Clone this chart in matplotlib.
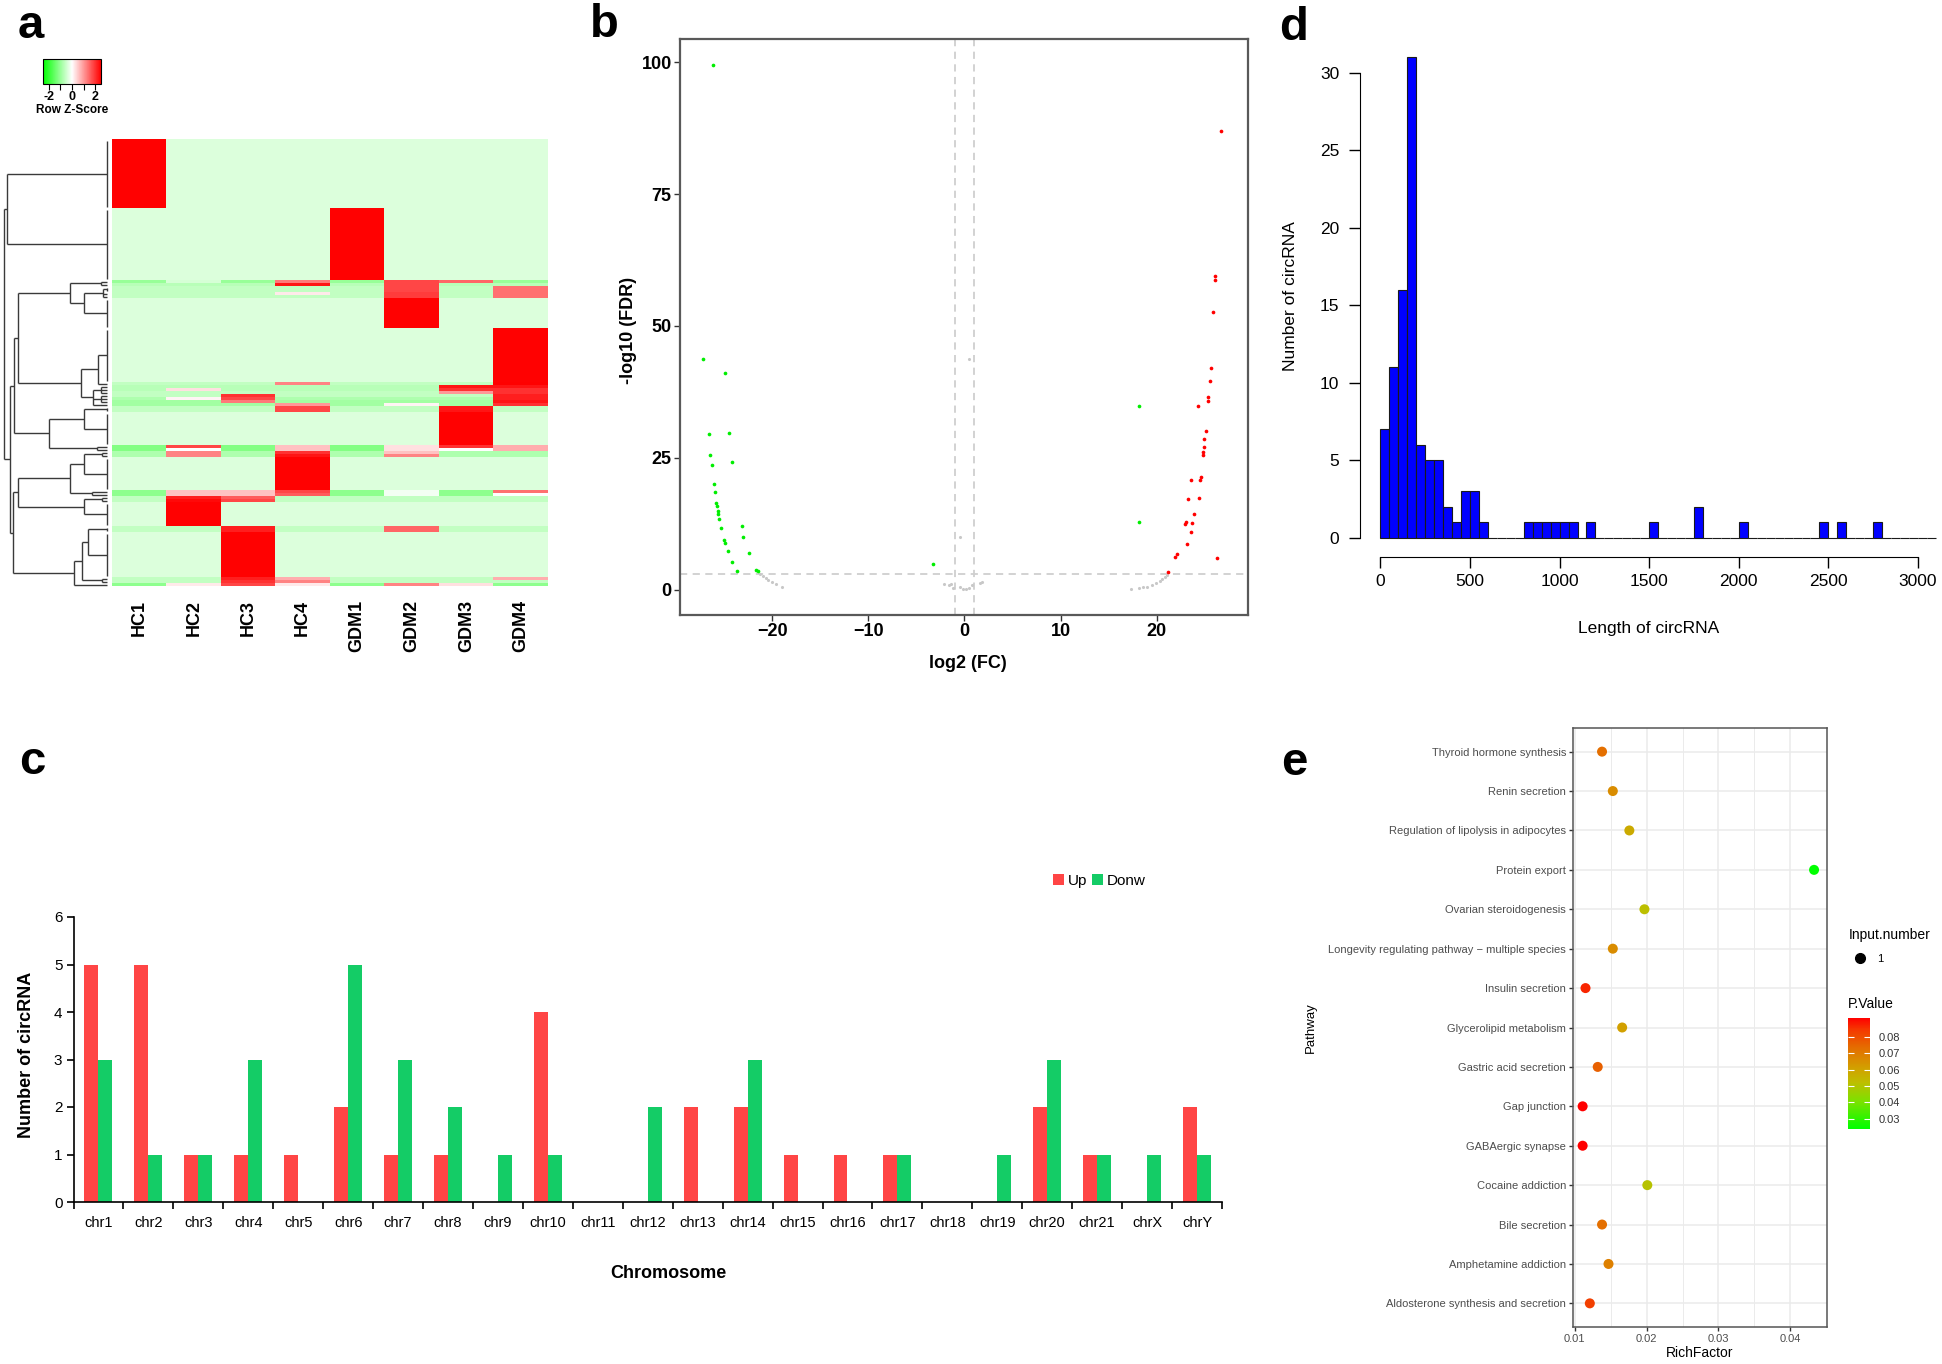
import numpy as np
import matplotlib
matplotlib.use("Agg")
import matplotlib.pyplot as plt
from matplotlib.colors import LinearSegmentedColormap, Normalize
from matplotlib.cm import ScalarMappable
from matplotlib.lines import Line2D
from matplotlib import font_manager

plt.rcParams['font.family'] = ['Liberation Sans', 'DejaVu Sans']
_names = {f.name for f in font_manager.fontManager.ttflist}
NARROW = 'Liberation Sans Narrow' if 'Liberation Sans Narrow' in _names else 'Liberation Sans'
NARROW_SIZE = 12 if NARROW == 'Liberation Sans Narrow' else 10.5

# ---------------- data: panel a (heatmap) ----------------
heat_samples = ['HC1', 'HC2', 'HC3', 'HC4', 'GDM1', 'GDM2', 'GDM3', 'GDM4']
heat_patterns = [
    [2.47, -.35, -.35, -.35, -.35, -.35, -.35, -.35],   # 0 HC1 block
    [-.35, -.35, -.35, -.35, 2.47, -.35, -.35, -.35],   # 1 GDM1 block
    [-1.0, -0.4, -1.0, 1.3, -1.0, 1.8, 1.5, -1.0],      # 2
    [-0.7, -0.7, -0.7, 2.3, -0.7, 1.8, -0.7, -0.7],     # 3
    [-0.6, -0.6, -0.6, -0.6, -0.6, 1.8, -0.6, 1.4],     # 4
    [-0.6, -0.6, -0.6, 0.2, -0.6, 1.9, -0.6, 1.4],      # 5
    [-0.6, -0.6, -0.6, -0.6, -0.6, 1.9, -0.6, 1.4],     # 6
    [-.35, -.35, -.35, -.35, -.35, 2.47, -.35, -.35],   # 7 GDM2 block
    [-.35, -.35, -.35, -.35, -.35, -.35, -.35, 2.47],   # 8 GDM4 block
    [-0.6, -0.6, -0.6, 1.2, -0.6, -0.6, -0.6, 2.5],     # 9
    [-0.7, -0.7, -0.7, -0.7, -0.7, -0.7, 2.3, 2.3],     # 10
    [-0.7, 0.3, -0.7, -0.7, -0.7, -0.7, 2.0, 2.0],      # 11
    [-0.6, -0.6, -0.6, -0.6, -0.6, -0.6, 1.0, 2.0],     # 12
    [-0.6, -0.6, 2.0, -0.6, -0.6, -0.6, -0.6, 2.2],     # 13
    [-0.8, 0.1, 1.8, -0.8, -0.8, -0.8, -0.8, 2.2],      # 14
    [-0.9, -0.9, 1.3, -0.9, -0.9, -0.9, -0.9, 2.3],     # 15
    [-0.9, -0.9, -0.9, 1.0, -0.9, 0.1, -0.9, 2.0],      # 16
    [-0.6, -0.6, -0.6, 1.8, -0.6, -0.6, 2.3, -0.6],     # 17
    [-.35, -.35, -.35, -.35, -.35, -.35, 2.47, -.35],   # 18 GDM3 block
    [-1.2, 1.8, -1.2, 0.6, -1.2, 0.3, 2.0, 0.8],        # 19
    [-1.2, 0.0, -1.2, 0.6, -1.2, 0.3, 0.0, 0.8],        # 20
    [-0.8, 1.2, -0.8, 2.0, -0.8, 0.6, -0.8, -0.8],      # 21
    [-0.8, 1.2, -0.8, 2.3, -0.8, 1.2, -0.8, -0.8],      # 22
    [-.35, -.35, -.35, 2.47, -.35, -.35, -.35, -.35],   # 23 HC4 block
    [-1.1, 0.6, 0.6, 1.8, -1.1, -0.1, -1.1, 1.4],       # 24
    [-1.1, 0.6, 0.6, 1.6, -1.1, -0.1, -1.1, 0.0],       # 25
    [-0.6, 2.2, 1.6, -0.6, -0.6, -0.6, -0.6, -0.6],     # 26
    [-0.6, 2.4, 1.8, -0.6, -0.6, -0.6, -0.6, -0.6],     # 27
    [-.35, 2.47, -.35, -.35, -.35, -.35, -.35, -.35],   # 28 HC2 block
    [-0.6, -0.6, 2.2, -0.6, -0.6, 1.5, -0.6, -0.6],     # 29
    [-.35, -.35, 2.47, -.35, -.35, -.35, -.35, -.35],   # 30 HC3 block
    [-0.6, -0.6, 2.2, 0.8, -0.6, -0.6, -0.6, 0.8],      # 31
    [-0.6, -0.6, 2.0, 1.2, -0.6, -0.6, -0.6, -0.6],     # 32
    [-1.1, 0.2, 1.8, 0.2, -1.1, 1.2, 0.3, -1.1],        # 33
]
heat_counts = [23, 24, 1, 1, 2, 1, 1, 10, 18, 1, 1, 1, 1, 1, 1, 1, 1, 2, 11,
               1, 1, 1, 1, 11, 1, 1, 1, 1, 8, 2, 15, 1, 1, 1]
# row dendrogram: (height, children); integers refer to heat_patterns groups
row_tree = (10.0, [
    (9.66, [0, 1]),
    (9.37, [
        (8.99, [
            (8.6, [
                (3.57, [(0.6, [2, 3]), (2.2, [(0.4, [4, 5, 6]), 7])]),
                (2.5, [(0.9, [8, 9]), (1.4, [(0.6, [10, 11, 12]), (0.6, [13, 14, 15]), 16])]),
            ]),
            (5.6, [(2.2, [17, 18]), (1.0, [19, 20])]),
        ]),
        (9.1, [
            (8.6, [
                (3.57, [(2.2, [(0.5, [21, 22]), 23]), (1.45, [24, 25])]),
                (2.2, [(0.5, [26, 27]), 28]),
            ]),
            (3.2, [(2.4, [(1.8, [29, 30]), (0.5, [31, 32])]), 33]),
        ]),
    ]),
])

# ---------------- data: panel b (volcano) ----------------
down_x = [-26.2, -27.2, -24.9, -26.6, -24.5, -26.5, -26.3, -24.2, -26.1, -26.0, -25.9, -25.7,
          -25.6, -25.6, -25.5, -25.3, -23.2, -23.0, -25.0, -24.9, -24.6, -22.4, -24.2, -23.7,
          -21.7, -21.5, 18.2, 18.2, -3.3]
down_y = [99.4, 43.7, 41.1, 29.6, 29.7, 25.6, 23.6, 24.2, 20.0, 18.5, 16.4, 15.8, 15.0, 14.3,
          13.4, 11.7, 12.0, 9.9, 9.5, 8.9, 7.4, 6.9, 5.2, 3.6, 3.7, 3.5, 34.8, 12.9, 4.9]
up_x = [26.7, 26.1, 26.1, 25.9, 25.6, 25.5, 25.3, 25.3, 24.3, 25.1, 24.9, 24.9, 24.8, 24.8,
        24.6, 24.5, 23.6, 24.4, 23.3, 23.9, 23.0, 22.9, 23.7, 23.6, 23.2, 22.1, 21.9, 26.3, 21.2]
up_y = [86.9, 59.5, 58.8, 52.6, 42.1, 39.6, 36.6, 35.7, 34.8, 30.0, 28.5, 27.0, 26.1, 25.5,
        21.4, 20.7, 20.8, 17.4, 17.1, 14.3, 12.9, 12.5, 12.7, 11.0, 8.7, 6.7, 6.2, 6.0, 3.3]
ns_x = [-21.3, -21.0, -20.7, -20.4, -20.0, -19.6, -19.0, -2.1, -1.6, -1.4, -1.2, -0.5, -0.2,
        0.2, 0.5, 0.8, 1.6, 1.8, -0.5, 0.5, 17.3, 18.2, 18.6, 19.0, 19.5, 19.9, 20.3, 20.6, 20.9, 21.1]
ns_y = [3.0, 2.6, 2.2, 1.9, 1.5, 1.1, 0.6, 1.1, 0.8, 1.0, 0.3, 0.5, 0.1, 0.2, 0.3, 0.8, 1.2,
        1.5, 10.0, 43.7, 0.2, 0.4, 0.5, 0.6, 0.9, 1.2, 1.6, 2.0, 2.4, 2.8]
fc_cut = 1.0
fdr_cut = 3.0

# ---------------- data: panel c (chromosomes) ----------------
chroms = ['chr%d' % i for i in range(1, 22)] + ['chrX', 'chrY']
chrom_up = [5, 5, 1, 1, 1, 2, 1, 1, 0, 4, 0, 0, 2, 2, 1, 1, 1, 0, 0, 2, 1, 0, 2]
chrom_down = [3, 1, 1, 3, 0, 5, 3, 2, 1, 1, 0, 2, 0, 3, 0, 0, 1, 0, 1, 3, 1, 1, 1]

# ---------------- data: panel d (length histogram) ----------------
len_bin_left = [0, 50, 100, 150, 200, 250, 300, 350, 400, 450, 500, 550, 800, 850, 900, 950,
                1000, 1050, 1150, 1500, 1750, 2000, 2450, 2550, 2750]
len_counts = [7, 11, 16, 31, 6, 5, 5, 2, 1, 3, 3, 1, 1, 1, 1, 1, 1, 1, 1, 1, 2, 1, 1, 1, 1]
len_bin_width = 50
len_max = 3100

# ---------------- data: panel e (KEGG dot plot) ----------------
pathways = ['Thyroid hormone synthesis', 'Renin secretion', 'Regulation of lipolysis in adipocytes',
            'Protein export', 'Ovarian steroidogenesis',
            'Longevity regulating pathway \u2212 multiple species', 'Insulin secretion',
            'Glycerolipid metabolism', 'Gastric acid secretion', 'Gap junction', 'GABAergic synapse',
            'Cocaine addiction', 'Bile secretion', 'Amphetamine addiction',
            'Aldosterone synthesis and secretion']
rich_factor = [0.0138, 0.0153, 0.0176, 0.0433, 0.0197, 0.0153, 0.0115, 0.0166, 0.0132, 0.0111,
               0.0111, 0.0201, 0.0138, 0.0147, 0.0121]
p_values = [0.073, 0.066, 0.058, 0.0237, 0.052, 0.066, 0.087, 0.061, 0.076, 0.0916, 0.0916,
            0.051, 0.073, 0.069, 0.083]
input_number = [1] * 15

# ---------------- layout helpers ----------------
W, H = 1942, 1364
fig = plt.figure(figsize=(W / 100, H / 100), dpi=100)


def rect(x0, y0, x1, y1):
    return [x0 / W, 1 - y1 / H, (x1 - x0) / W, (y1 - y0) / H]


def label_at(ax, box, xcenter=None, ycenter=None, which='x'):
    x0, y0, x1, y1 = box
    if which == 'x':
        ax.xaxis.set_label_coords((xcenter - x0) / (x1 - x0), (y1 - ycenter) / (y1 - y0))
        ax.xaxis.label.set_va('center')
    else:
        ax.yaxis.set_label_coords((xcenter - x0) / (x1 - x0), (y1 - ycenter) / (y1 - y0))
        ax.yaxis.label.set_va('center')


for letter, x, yb in [('a', 18, 38), ('b', 590, 37), ('d', 1279, 40), ('c', 19, 774), ('e', 1281, 775)]:
    fig.text(x / W, 1 - yb / H, letter, fontsize=34, fontweight='bold', va='baseline', ha='left')

# ================= panel a =================
zcmap = LinearSegmentedColormap.from_list('gwr', ['#00FF00', '#FFFFFF', '#FF0000'])
rows = []
for pat, n in zip(heat_patterns, heat_counts):
    rows.extend([pat] * n)
mat = np.array(rows)
nrows = mat.shape[0]
ax_h = fig.add_axes(rect(112, 139, 548, 586))
ax_h.imshow(mat, cmap=zcmap, vmin=-2.5, vmax=2.5, aspect='auto', interpolation='nearest',
            extent=(0, len(heat_samples), nrows, 0))
ax_h.set_xlim(0, len(heat_samples))
ax_h.set_ylim(nrows, 0)
ax_h.set_xticks(np.arange(len(heat_samples)) + 0.5)
ax_h.set_xticklabels(heat_samples, rotation=90, fontsize=13, fontweight='bold')
ax_h.tick_params(axis='x', length=0, pad=10)
ax_h.set_yticks([])
for s in ax_h.spines.values():
    s.set_visible(False)

ax_dn = fig.add_axes(rect(0, 139, 107, 586))
ax_dn.set_xlim(10.34, 0)
ax_dn.set_ylim(nrows, 0)
ax_dn.axis('off')
row_start = np.concatenate([[0], np.cumsum(heat_counts)[:-1]])
lkw = dict(color='#3a3a3a', lw=1.0, clip_on=False, solid_capstyle='butt')


def draw_tree(node):
    if isinstance(node, int):
        top = row_start[node] + 0.5
        bot = row_start[node] + heat_counts[node] - 0.5
        if heat_counts[node] > 1:
            ax_dn.plot([0, 0], [top, bot], **lkw)
        return (top + bot) / 2, 0.0
    h, children = node
    res = [draw_tree(c) for c in children]
    for pos, ch in res:
        ax_dn.plot([ch, h], [pos, pos], **lkw)
    ps = [p for p, _ in res]
    ax_dn.plot([h, h], [min(ps), max(ps)], **lkw)
    return (min(ps) + max(ps)) / 2, h


draw_tree(row_tree)

cax_a = fig.add_axes(rect(43, 59, 101, 84))
cb_a = fig.colorbar(ScalarMappable(norm=Normalize(-2.5, 2.5), cmap=zcmap), cax=cax_a,
                    orientation='horizontal')
cb_a.set_ticks([-2, -1, 0, 1, 2])
cb_a.set_ticklabels(['-2', '', '0', '', '2'])
cax_a.tick_params(labelsize=9, length=4, width=0.8, pad=1)
for t in cax_a.get_xticklabels():
    t.set_fontweight('bold')
cb_a.outline.set_linewidth(0.8)
cax_a.set_xlabel('Row Z-Score', fontsize=8.5, fontweight='bold', labelpad=1)

# ================= panel b =================
box_b = (680, 39, 1248, 615)
ax_v = fig.add_axes(rect(*box_b))
ax_v.scatter(ns_x, ns_y, s=5, color='#C8C8C8', linewidths=0, zorder=3)
ax_v.scatter(down_x, down_y, s=7, color='#00EE00', linewidths=0, zorder=3)
ax_v.scatter(up_x, up_y, s=7, color='#FF0000', linewidths=0, zorder=3)
for xv in (-fc_cut, fc_cut):
    ax_v.axvline(xv, color='#CFCFCF', lw=1.3, ls=(0, (4, 3)), zorder=1)
ax_v.axhline(fdr_cut, color='#CFCFCF', lw=1.3, ls=(0, (4, 3)), zorder=1)
ax_v.set_xlim(-29.6, 29.5)
ax_v.set_ylim(-4.8, 104.4)
ax_v.set_xticks([-20, -10, 0, 10, 20])
ax_v.set_yticks([0, 25, 50, 75, 100])
ax_v.tick_params(length=4, width=1, color='#333333', labelsize=13, pad=2)
for t in ax_v.get_xticklabels() + ax_v.get_yticklabels():
    t.set_fontweight('bold')
for s in ax_v.spines.values():
    s.set_color('#595959')
    s.set_linewidth(1.6)
ax_v.set_xlabel('log2 (FC)', fontsize=13, fontweight='bold')
ax_v.set_ylabel('-log10 (FDR)', fontsize=13, fontweight='bold')
label_at(ax_v, box_b, 968, 663, 'x')
label_at(ax_v, box_b, 628, 330, 'y')

# ================= panel d =================
box_d = (1360, 38, 1942, 557)
ax_l = fig.add_axes(rect(*box_d))
edges = np.arange(0, len_max, len_bin_width)
full_counts = np.zeros(len(edges))
for left, c in zip(len_bin_left, len_counts):
    full_counts[left // len_bin_width] = c
ax_l.bar(edges, full_counts, width=len_bin_width, align='edge', color='#0000FF',
         edgecolor='#1a1a1a', linewidth=0.8)
ax_l.set_xlim(-114, 3134)
ax_l.set_ylim(-1.23, 32.24)
ax_l.set_xticks(np.arange(0, 3001, 500))
ax_l.set_yticks(np.arange(0, 31, 5))
ax_l.spines['top'].set_visible(False)
ax_l.spines['right'].set_visible(False)
ax_l.spines['left'].set_bounds(0, 30)
ax_l.spines['bottom'].set_bounds(0, 3000)
ax_l.tick_params(length=8, width=1, labelsize=12.5, pad=4)
ax_l.tick_params(axis='y', pad=7)
ax_l.set_xlabel('Length of circRNA', fontsize=12.5)
ax_l.set_ylabel('Number of circRNA', fontsize=12.5)
label_at(ax_l, box_d, 1649, 628, 'x')
label_at(ax_l, box_d, 1290, 296, 'y')

# ================= panel c =================
box_c = (73.5, 917, 1222, 1202)
ax_c = fig.add_axes(rect(*box_c))
xc = np.arange(len(chroms))
bw = 0.28
ax_c.bar(xc - bw / 2, chrom_up, bw, color='#FF4545', label='Up')
ax_c.bar(xc + bw / 2, chrom_down, bw, color='#14CC66', label='Donw')
ax_c.set_xlim(-0.5, len(chroms) - 0.5)
ax_c.set_ylim(0, 6)
ax_c.set_xticks(xc)
ax_c.set_xticklabels(chroms, fontfamily=NARROW, fontsize=NARROW_SIZE)
ax_c.set_xticks(np.arange(-0.5, len(chroms), 1), minor=True)
ax_c.tick_params(axis='x', which='major', length=0, pad=10)
ax_c.tick_params(axis='x', which='minor', length=5, width=1.2)
ax_c.set_yticks(range(7))
ax_c.tick_params(axis='y', length=5, width=1.2, pad=3)
for t in ax_c.get_yticklabels():
    t.set_fontfamily(NARROW)
    t.set_fontsize(NARROW_SIZE + 0.5)
ax_c.spines['top'].set_visible(False)
ax_c.spines['right'].set_visible(False)
ax_c.spines['left'].set_linewidth(1.2)
ax_c.spines['bottom'].set_linewidth(1.2)
ax_c.set_xlabel('Chromosome', fontsize=13, fontweight='bold')
ax_c.set_ylabel('Number of circRNA', fontsize=13, fontweight='bold')
label_at(ax_c, box_c, 668, 1273, 'x')
label_at(ax_c, box_c, 26.5, 1055, 'y')
ax_c.legend(loc='center left', bbox_to_anchor=(1045 / W, 1 - 881 / H), bbox_transform=fig.transFigure,
            ncol=2, frameon=False, handlelength=0.75, handleheight=0.75, handletextpad=0.25,
            columnspacing=0.3, borderpad=0, prop={'family': NARROW, 'size': NARROW_SIZE + 0.5})

# ================= panel e =================
box_e = (1573, 728, 1827, 1327)
ax_e = fig.add_axes(rect(*box_e))
pcols = ['#00FF00', '#7DE100', '#BEBE00', '#D2A000', '#E46E00', '#F53700', '#FF0000']
pcmap = LinearSegmentedColormap.from_list('gr', list(zip([0, 0.25, 0.42, 0.55, 0.73, 0.9, 1.0], pcols)))
pnorm = Normalize(min(p_values), max(p_values))
npw = len(pathways)
ypos = npw - np.arange(npw)
ax_e.scatter(rich_factor, ypos, s=[52 * n for n in input_number], c=p_values, cmap=pcmap, norm=pnorm,
             linewidths=0, zorder=3)
ax_e.set_xlim(0.00976, 0.0451)
ax_e.set_ylim(0.4, npw + 0.6)
ax_e.set_yticks(ypos)
ax_e.set_yticklabels(pathways)
ax_e.set_xticks([0.01, 0.02, 0.03, 0.04])
ax_e.set_xticklabels(['0.01', '0.02', '0.03', '0.04'])
ax_e.set_xticks([0.015, 0.025, 0.035], minor=True)
ax_e.grid(True, which='major', color='#EBEBEB', lw=1.1, zorder=0)
ax_e.grid(True, which='minor', axis='x', color='#EBEBEB', lw=0.7, zorder=0)
ax_e.set_axisbelow(True)
ax_e.tick_params(which='major', length=3, width=1, color='#333333', labelsize=8, labelcolor='#4D4D4D', pad=2)
ax_e.tick_params(which='minor', length=0)
for s in ax_e.spines.values():
    s.set_color('#555555')
    s.set_linewidth(1.1)
ax_e.set_xlabel('RichFactor', fontsize=10)
ax_e.set_ylabel('Pathway', fontsize=9.5)
label_at(ax_e, box_e, 1700, 1353, 'x')
label_at(ax_e, box_e, 1311, 1028, 'y')

cax_e = fig.add_axes(rect(1848, 1018, 1870, 1129))
cb_e = fig.colorbar(ScalarMappable(norm=pnorm, cmap=pcmap), cax=cax_e)
cb_e.set_ticks([0.03, 0.04, 0.05, 0.06, 0.07, 0.08])
cb_e.set_ticklabels(['0.03', '0.04', '0.05', '0.06', '0.07', '0.08'])
cb_e.outline.set_visible(False)
cax_e.tick_params(which='both', left=True, right=True, direction='in', color='white', length=4,
                  width=0.8, labelsize=8, labelcolor='#333333', pad=6)
cax_e.set_title('P.Value', loc='left', fontsize=10, pad=7)
ax_e.legend(handles=[Line2D([], [], marker='o', color='black', ls='', markersize=7)], labels=['1'],
            title='Input.number', loc='upper left', bbox_to_anchor=(1843 / W, 1 - 922 / H),
            bbox_transform=fig.transFigure, frameon=False, fontsize=8, title_fontsize=10,
            alignment='left', handletextpad=0.6, borderpad=0, labelspacing=1.1)

fig.savefig('out.png', dpi=100)
